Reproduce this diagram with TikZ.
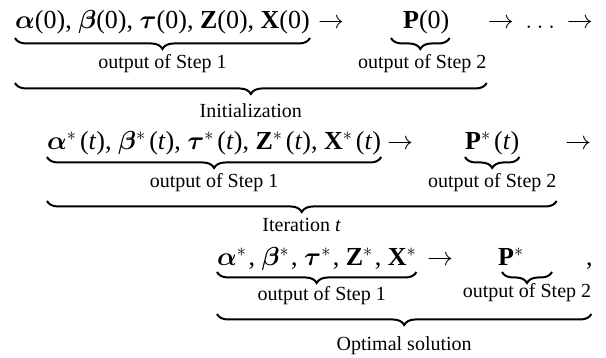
\RequirePackage{fix-cm}
\documentclass[tikz,border=0pt]{standalone}
\usepackage{amsmath}
\usepackage{fontspec}
\setmainfont{Liberation Serif}
\usetikzlibrary{decorations.pathreplacing,calc}
\newcommand{\bAl}{\ensuremath{\boldsymbol{\alpha}}}
\newcommand{\bBe}{\ensuremath{\boldsymbol{\beta}}}
\newcommand{\bTa}{\ensuremath{\boldsymbol{\tau}}}
\newcommand{\st}[1][3.5pt]{\ensuremath{^{*}}\kern#1}
\tikzset{
  main/.style={inner sep=0pt, anchor=base west, font=\fontsize{26}{30}\selectfont},
  lab/.style={inner sep=0pt, anchor=base, font=\fontsize{20}{24}\selectfont},
  ubrace/.style={decorate, decoration={brace, amplitude=11pt}, line width=2pt}
}
\begin{document}
\begin{tikzpicture}[x=1pt,y=1pt]
\useasboundingbox (0,0) rectangle (606,-358);
% ---------- row 1 ----------
\node[main] (r1a) at (15,-29) {\bAl(0), \bBe(0), \bTa(0), \textbf{Z}(0), \textbf{X}(0)};
\node[main] (r1s) at (318,-29) {$\rightarrow$};
\node[main] (r1p) at (403,-29) {\textbf{P}(0)};
\node[main,anchor=base east] (r1d) at (593,-29) {$\rightarrow\,\ldots\,\rightarrow$};
\draw[ubrace] ([yshift=-9pt]r1a.base east) -- ([yshift=-9pt]r1a.base west);
\draw[ubrace] ([yshift=-9pt]r1p.base east) -- ([xshift=-12pt,yshift=-9pt]r1p.base west);
\node[lab] (l11) at ([yshift=-40pt]r1a.base) {output of Step 1};
\node[lab] (l12) at ([xshift=-4pt,yshift=-40pt]r1p.base) {output of Step 2};
\coordinate (b1L) at ($(r1a.base west |- l12.base)+(0,-14)$);
\coordinate (b1R) at ($(l12.base east)+(0,-14)$);
\draw[ubrace] (b1R) -- (b1L);
\node[lab] (l1) at ($(b1L)!0.5!(b1R)+(0,-35)$) {Initialization};
% ---------- row 2 ----------
\node[main] (r2a) at (47,-150) {\bAl\st(\textit{t}), \bBe\st(\textit{t}), \bTa\st(\textit{t}), \textbf{Z}\st(\textit{t}), \textbf{X}\st(\textit{t})};
\node[main] (r2s) at (387,-150) {$\rightarrow$};
\node[main] (r2p) at (465,-150) {\textbf{P}\st(\textit{t})};
\node[main] (r2e) at (565,-150) {$\rightarrow$};
\draw[ubrace] ([yshift=-7pt]r2a.base east) -- ([yshift=-7pt]r2a.base west);
\draw[ubrace] ([yshift=-7pt]r2p.base east) -- ([yshift=-7pt]r2p.base west);
\node[lab] (l21) at ([yshift=-38pt]r2a.base) {output of Step 1};
\node[lab] (l22) at ([yshift=-38pt]r2p.base) {output of Step 2};
\coordinate (b2L) at ($(r2a.base west |- l22.base)+(0,-13)$);
\coordinate (b2R) at ($(l22.base east)+(0,-13)$);
\draw[ubrace] (b2R) -- (b2L);
\node[lab] (l2) at ($(b2L)!0.5!(b2R)+(0,-31)$) {Iteration \textit{t}};
% ---------- row 3 ----------
\node[main] (r3a) at (217,-266) {\bAl\st[2pt], \bBe\st[2pt], \bTa\st[2pt], \textbf{Z}\st[2pt], \textbf{X}\st[0pt]};
\node[main] (r3s) at (427,-266) {$\rightarrow$};
\node[main] (r3p) at (498,-266) {\textbf{P}\st[0pt]};
\node[main] (r3c) at (586,-266) {,};
\coordinate (p3R) at ([xshift=54pt,yshift=-6pt]r3p.base west);
\coordinate (p3L) at ([xshift=4pt,yshift=-6pt]r3p.base west);
\draw[ubrace] ([yshift=-6pt]r3a.base east) -- ([yshift=-6pt]r3a.base west);
\draw[ubrace] (p3R) -- (p3L);
\node[lab] (l31) at ([xshift=5pt,yshift=-35pt]r3a.base) {output of Step 1};
\node[lab] (l32) at ($(p3L)!0.5!(p3R)+(0,-26)$) {output of Step 2};
\coordinate (b3L) at ($(r3a.base west |- l31.base)+(0,-13)$);
\coordinate (b3R) at ($(l32.base east |- l31.base)+(0,-13)$);
\draw[ubrace] (b3R) -- (b3L);
\node[lab] (l3) at ($(b3L)!0.5!(b3R)+(0,-37)$) {Optimal solution};
\end{tikzpicture}
\end{document}
